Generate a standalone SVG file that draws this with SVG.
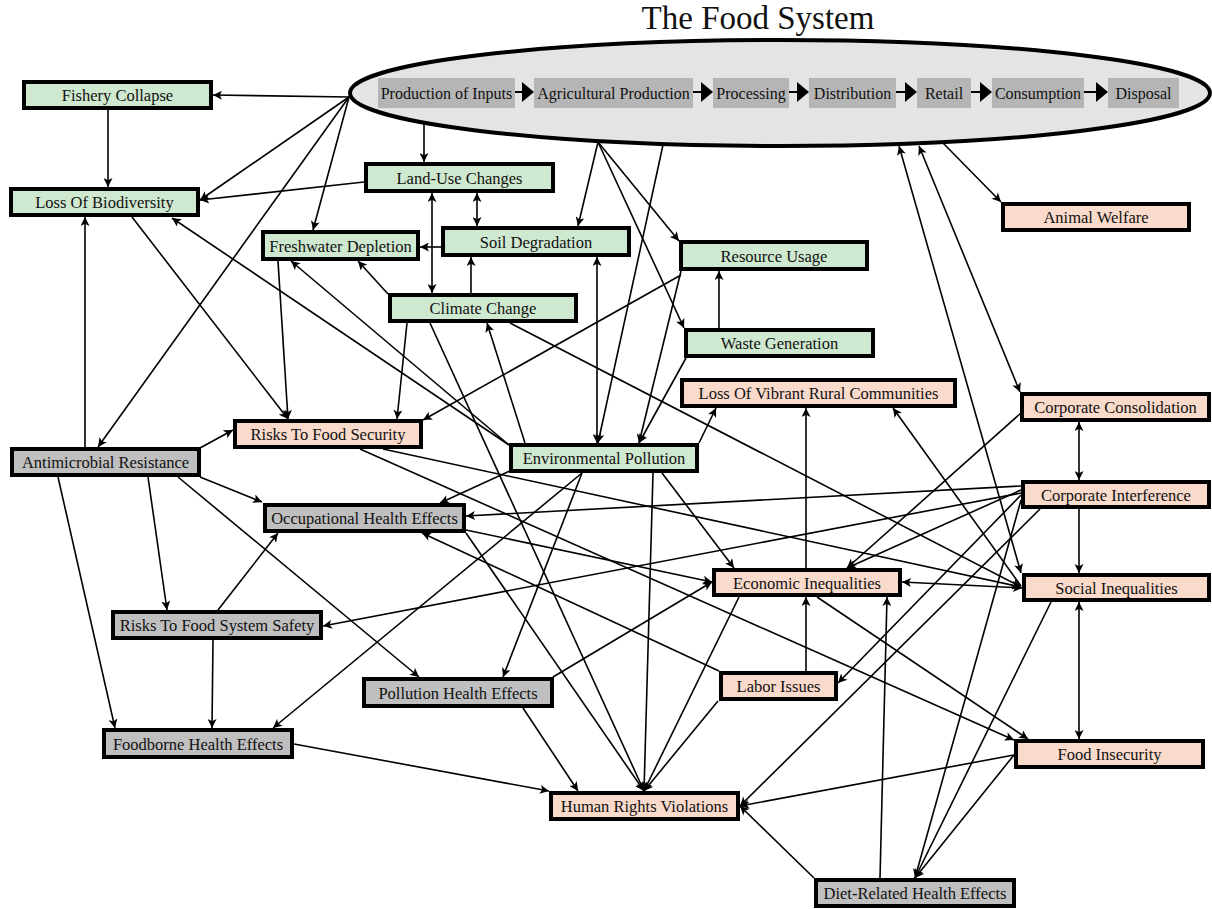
<svg xmlns="http://www.w3.org/2000/svg" width="1212" height="909" viewBox="0 0 1212 909">
  <style>
    .node rect { stroke: #000; stroke-width: 4; }
    .green rect { fill: #cfe8d0; }
    .pink rect { fill: #f9dacb; }
    .grey rect { fill: #bfbfbf; }
    .node text, .stage text { font-family: "Liberation Serif", "Times New Roman", serif; font-size: 16.5px; text-anchor: middle; fill: #111; }
    .stage rect { fill: #b5b5b5; }
    .stage text { font-size: 16px; }
    .chain line { stroke: #000; stroke-width: 2; }
    .chain polygon { fill: #000; }
    .edges line { stroke: #000; stroke-width: 1.6; fill: none; marker-end: url(#ah); }
    .edges line.two { marker-start: url(#ah); }
    .edges line.plain { marker-end: none; }
  </style>
  <defs>
    <marker id="ah" viewBox="0 0 10 10" markerUnits="userSpaceOnUse" markerWidth="10" markerHeight="9" refX="10" refY="5" orient="auto-start-reverse">
      <path d="M0,0 L10,5 L0,10 L2.5,5 Z" fill="#000"/>
    </marker>
  </defs>
  <rect width="1212" height="909" fill="#fff"/>

  <!-- The food system: title, ellipse and the chain of stages -->
  <g id="food-system">
    <text x="758" y="29" font-family="Liberation Serif, Times New Roman, serif" font-size="33" text-anchor="middle" fill="#111">The Food System</text>
    <ellipse cx="780" cy="93" rx="430" ry="53" fill="#e4e4e4" stroke="#000" stroke-width="4"/>
    <g class="stage">
      <rect x="378" y="78" width="137" height="30"/><text x="446.5" y="98.5">Production of Inputs</text>
      <rect x="534" y="78" width="159" height="30"/><text x="613.5" y="98.5">Agricultural Production</text>
      <rect x="713" y="78" width="76" height="30"/><text x="751" y="98.5">Processing</text>
      <rect x="809" y="78" width="87" height="30"/><text x="852.5" y="98.5">Distribution</text>
      <rect x="917" y="78" width="54" height="30"/><text x="944" y="98.5">Retail</text>
      <rect x="992" y="78" width="92" height="30"/><text x="1038" y="98.5">Consumption</text>
      <rect x="1108" y="78" width="71" height="30"/><text x="1143.5" y="98.5">Disposal</text>
    </g>
    <g class="chain">
      <line x1="515" y1="92" x2="523" y2="92"/><polygon points="522,82 534,92 522,102"/>
      <line x1="693" y1="92" x2="702" y2="92"/><polygon points="701,82 713,92 701,102"/>
      <line x1="789" y1="92" x2="798" y2="92"/><polygon points="797,82 809,92 797,102"/>
      <line x1="896" y1="92" x2="906" y2="92"/><polygon points="905,82 917,92 905,102"/>
      <line x1="971" y1="92" x2="981" y2="92"/><polygon points="980,82 992,92 980,102"/>
      <line x1="1084" y1="92" x2="1097" y2="92"/><polygon points="1096,82 1108,92 1096,102"/>
    </g>
  </g>

  <!-- Connectors -->
  <g id="connectors" class="edges">
    <line x1="349" y1="97" x2="213" y2="95"/>
    <line x1="349" y1="97" x2="200" y2="200"/>
    <line x1="349" y1="97" x2="313" y2="230"/>
    <line x1="349" y1="97" x2="98" y2="447"/>
    <line x1="424" y1="124" x2="424" y2="162"/>
    <line x1="598" y1="142" x2="578" y2="226"/>
    <line x1="598" y1="142" x2="679" y2="241"/>
    <line x1="598" y1="142" x2="684" y2="328"/>
    <line x1="663" y1="145" x2="598" y2="443"/>
    <line x1="943" y1="143" x2="1001" y2="202"/>
    <line class="two" x1="919" y1="146" x2="1020" y2="392"/>
    <line class="two" x1="899" y1="146" x2="1021" y2="573"/>

    <line x1="108" y1="110" x2="108" y2="187"/>
    <line x1="364" y1="182" x2="200" y2="200"/>
    <line class="two" x1="432" y1="193" x2="432" y2="293"/>
    <line class="two" x1="477" y1="193" x2="477" y2="226"/>
    <line x1="441" y1="247" x2="420" y2="247"/>
    <line x1="471" y1="293" x2="471" y2="257"/>
    <line x1="388" y1="294" x2="358" y2="261"/>
    <line class="two" x1="597" y1="257" x2="597" y2="443"/>
    <line x1="719" y1="328" x2="719" y2="271"/>
    <line x1="681" y1="271" x2="639" y2="443"/>
    <line x1="686" y1="358" x2="639" y2="443"/>
    <line x1="681" y1="275" x2="423" y2="420"/>

    <line x1="509" y1="445" x2="172" y2="218"/>
    <line x1="509" y1="445" x2="291" y2="261"/>
    <line x1="525" y1="443" x2="487" y2="323"/>
    <line x1="699" y1="443" x2="716" y2="408"/>
    <line x1="512" y1="470" x2="440" y2="503"/>
    <line x1="582" y1="473" x2="273" y2="728"/>
    <line x1="582" y1="473" x2="503" y2="677"/>
    <line x1="653" y1="473" x2="644" y2="791"/>
    <line x1="662" y1="473" x2="734" y2="568"/>

    <line x1="278" y1="261" x2="288" y2="419"/>
    <line x1="132" y1="217" x2="288" y2="419"/>
    <line x1="407" y1="323" x2="397" y2="419"/>
    <line x1="430" y1="323" x2="644" y2="791"/>
    <line x1="510" y1="323" x2="1021" y2="587"/>

    <line x1="200" y1="448" x2="233" y2="430"/>
    <line x1="85" y1="447" x2="85" y2="217"/>
    <line x1="58" y1="477" x2="115" y2="728"/>
    <line x1="148" y1="477" x2="167" y2="610"/>
    <line x1="178" y1="477" x2="419" y2="677"/>
    <line x1="200" y1="477" x2="262" y2="502"/>

    <line x1="218" y1="610" x2="278" y2="533"/>
    <line x1="213" y1="640" x2="212" y2="728"/>
    <line x1="1021" y1="493" x2="323" y2="626"/>
    <line x1="1021" y1="486" x2="466" y2="516"/>
    <line x1="719" y1="671" x2="422" y2="533"/>
    <line x1="466" y1="530" x2="712" y2="582"/>
    <line x1="466" y1="533" x2="644" y2="791"/>
    <line x1="383" y1="449" x2="1021" y2="587"/>
    <line x1="360" y1="449" x2="1014" y2="740"/>

    <line x1="553" y1="677" x2="712" y2="582"/>
    <line x1="523" y1="708" x2="578" y2="791"/>
    <line x1="294" y1="744" x2="549" y2="791"/>
    <line x1="739" y1="597" x2="644" y2="791"/>
    <line x1="718" y1="701" x2="644" y2="791"/>

    <line x1="806" y1="568" x2="806" y2="408"/>
    <line x1="806" y1="671" x2="806" y2="597"/>
    <line class="two" x1="902" y1="582" x2="1022" y2="588"/>
    <line x1="1021" y1="586" x2="893" y2="408"/>
    <line x1="817" y1="597" x2="1028" y2="739"/>

    <line x1="1021" y1="413" x2="847" y2="568"/>
    <line x1="1021" y1="490" x2="847" y2="568"/>
    <line x1="1021" y1="495" x2="838" y2="683"/>
    <line x1="1040" y1="509" x2="740" y2="806"/>
    <line x1="1021" y1="500" x2="915" y2="878"/>
    <line class="two" x1="1079" y1="422" x2="1079" y2="480"/>
    <line x1="1079" y1="509" x2="1079" y2="573"/>
    <line class="two" x1="1079" y1="602" x2="1079" y2="739"/>
    <line x1="1051" y1="602" x2="915" y2="878"/>
    <line x1="1014" y1="755" x2="915" y2="878"/>
    <line x1="1014" y1="755" x2="740" y2="806"/>
    <line x1="814" y1="878" x2="740" y2="806"/>
    <line x1="880" y1="878" x2="887" y2="597"/>
  </g>

  <!-- Environmental outcomes -->
  <g id="fishery-collapse" class="node green"><rect x="24" y="82" width="187" height="26"/><text x="117.5" y="101">Fishery Collapse</text></g>
  <g id="loss-of-biodiversity" class="node green"><rect x="11" y="189" width="187" height="26"/><text x="104.5" y="208">Loss Of Biodiversity</text></g>
  <g id="land-use-changes" class="node green"><rect x="366" y="164" width="187" height="27"/><text x="459.5" y="183.5">Land-Use Changes</text></g>
  <g id="freshwater-depletion" class="node green"><rect x="263" y="232" width="155" height="27"/><text x="340.5" y="251.5">Freshwater Depletion</text></g>
  <g id="soil-degradation" class="node green"><rect x="443" y="228" width="186" height="27"/><text x="536" y="247.5">Soil Degradation</text></g>
  <g id="climate-change" class="node green"><rect x="390" y="295" width="186" height="26"/><text x="483" y="314">Climate Change</text></g>
  <g id="resource-usage" class="node green"><rect x="681" y="242" width="186" height="27"/><text x="774" y="261.5">Resource Usage</text></g>
  <g id="waste-generation" class="node green"><rect x="686" y="330" width="187" height="26"/><text x="779.5" y="349">Waste Generation</text></g>
  <g id="environmental-pollution" class="node green"><rect x="511" y="445" width="186" height="26"/><text x="604" y="464">Environmental Pollution</text></g>

  <!-- Social and economic outcomes -->
  <g id="animal-welfare" class="node pink"><rect x="1003" y="204" width="186" height="26"/><text x="1096" y="223">Animal Welfare</text></g>
  <g id="loss-of-vibrant-rural-communities" class="node pink"><rect x="682" y="380" width="273" height="26"/><text x="818.5" y="399">Loss Of Vibrant Rural Communities</text></g>
  <g id="corporate-consolidation" class="node pink"><rect x="1022" y="394" width="187" height="26"/><text x="1115.5" y="413">Corporate Consolidation</text></g>
  <g id="risks-to-food-security" class="node pink"><rect x="235" y="421" width="186" height="26"/><text x="328" y="440">Risks To Food Security</text></g>
  <g id="corporate-interference" class="node pink"><rect x="1023" y="482" width="186" height="25"/><text x="1116" y="500.5">Corporate Interference</text></g>
  <g id="economic-inequalities" class="node pink"><rect x="714" y="570" width="186" height="25"/><text x="807" y="588.5">Economic Inequalities</text></g>
  <g id="social-inequalities" class="node pink"><rect x="1024" y="575" width="185" height="25"/><text x="1116.5" y="593.5">Social Inequalities</text></g>
  <g id="labor-issues" class="node pink"><rect x="721" y="673" width="115" height="26"/><text x="778.5" y="692">Labor Issues</text></g>
  <g id="food-insecurity" class="node pink"><rect x="1016" y="741" width="187" height="26"/><text x="1109.5" y="760">Food Insecurity</text></g>
  <g id="human-rights-violations" class="node pink"><rect x="551" y="793" width="187" height="26"/><text x="644.5" y="812">Human Rights Violations</text></g>

  <!-- Health outcomes -->
  <g id="antimicrobial-resistance" class="node grey"><rect x="12" y="449" width="187" height="26"/><text x="105.5" y="468">Antimicrobial Resistance</text></g>
  <g id="occupational-health-effects" class="node grey"><rect x="265" y="505" width="199" height="26"/><text x="364.5" y="524">Occupational Health Effects</text></g>
  <g id="risks-to-food-system-safety" class="node grey"><rect x="113" y="612" width="208" height="26"/><text x="217" y="631">Risks To Food System Safety</text></g>
  <g id="pollution-health-effects" class="node grey"><rect x="364" y="679" width="188" height="27"/><text x="458" y="698.5">Pollution Health Effects</text></g>
  <g id="foodborne-health-effects" class="node grey"><rect x="104" y="730" width="188" height="27"/><text x="198" y="749.5">Foodborne Health Effects</text></g>
  <g id="diet-related-health-effects" class="node grey"><rect x="816" y="880" width="198" height="26"/><text x="915" y="899">Diet-Related Health Effects</text></g>
</svg>
